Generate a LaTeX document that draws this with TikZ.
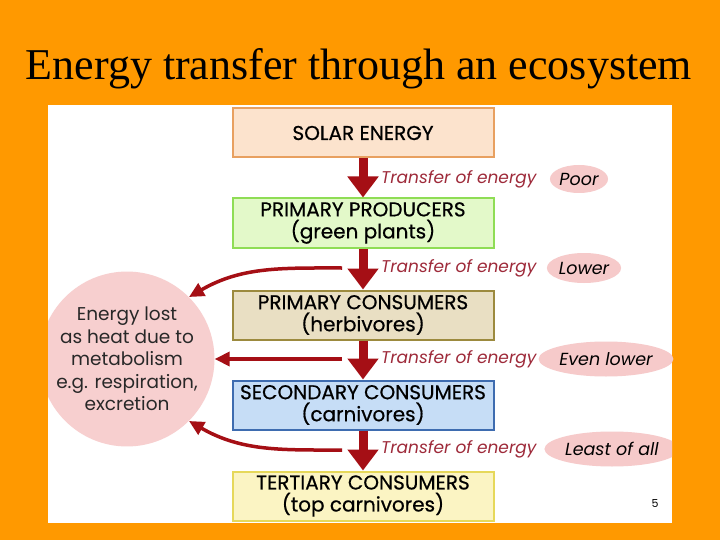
\documentclass[tikz,border=0pt]{standalone}
\usepackage{fontspec}
\setmainfont{Poppins}
\newfontfamily\titlefont{Liberation Serif}
\newfontfamily\boxfont{Poppins}[FakeBold=0.6]
\usetikzlibrary{arrows.meta,positioning,shapes}

\definecolor{slidebg}{HTML}{FF9900}
\definecolor{flowred}{HTML}{A50F15}
\definecolor{transtext}{HTML}{9E2A3A}
\definecolor{pinkfill}{HTML}{F6CACA}

\tikzset{
  level/.style={draw, line width=2pt, minimum width=261pt, minimum height=49pt,
    align=center, font=\boxfont\fontsize{20}{22}\selectfont, inner sep=0pt},
  flow/.style={draw=flowred, line width=9pt, -{Triangle[width=30pt,length=21pt]}},
  loss/.style={draw=flowred, line width=3.5pt, -{Triangle[width=14pt,length=15pt]}},
  transfer/.style={anchor=west, text=transtext, font=\fontsize{17}{19}\selectfont\itshape, inner sep=0pt},
  rating/.style={ellipse, fill=pinkfill, inner sep=1pt, font=\fontsize{17.5}{19}\selectfont\itshape}
}

\begin{document}
\begin{tikzpicture}[x=1pt, y=-1pt]
\fill[slidebg] (0,0) rectangle (720,540);
\useasboundingbox (0,0) rectangle (720,540);
\fill[white] (48,105) rectangle (672,523);

\node[font=\titlefont\fontsize{44}{48}\selectfont] (title) at (359,69) {Energy transfer through an ecosystem};

% trophic levels
\node[level, fill={rgb,255:red,252;green,227;blue,205}, draw={rgb,255:red,232;green,160;blue,96}] (solar) at (363,133) {SOLAR ENERGY};
\node[level, fill={rgb,255:red,227;green,249;blue,201}, draw={rgb,255:red,143;green,221;blue,85}] (prod) at (363,223) {PRIMARY PRODUCERS\\(green plants)};
\node[level, fill={rgb,255:red,233;green,223;blue,195}, draw={rgb,255:red,156;green,138;blue,62}] (pcons) at (363,315) {PRIMARY CONSUMERS\\(herbivores)};
\node[level, fill={rgb,255:red,198;green,221;blue,246}, draw={rgb,255:red,62;green,108;blue,176}] (scons) at (363,405) {SECONDARY CONSUMERS\\(carnivores)};
\node[level, fill={rgb,255:red,251;green,244;blue,195}, draw={rgb,255:red,230;green,216;blue,90}] (tcons) at (363,496) {TERTIARY CONSUMERS\\(top carnivores)};

\draw[flow] (solar.south) -- (prod.north);
\draw[flow] (prod.south) -- (pcons.north);
\draw[flow] (pcons.south) -- (scons.north);
\draw[flow] (scons.south) -- (tcons.north);

% transfer labels
\node[transfer] (t1) at (381,179) {Transfer of energy};
\node[transfer] (t2) at (381,268) {Transfer of energy};
\node[transfer] (t3) at (381,359) {Transfer of energy};
\node[transfer] (t4) at (381,449) {Transfer of energy};
\node[rating, minimum width=58pt, minimum height=28pt] (poor) at (579,179) {Poor};
\node[rating, minimum width=68pt, minimum height=30pt] (lower) at (584,268) {Lower};
\node[rating, minimum width=117pt, minimum height=35pt] (even) at (606,359) {Even lower};
\begin{scope}
\clip (48,105) rectangle (672,523);
\node[rating, minimum width=120pt, minimum height=35pt] (least) at (612,449) {Least of all};
% heat loss
\node[circle, fill={rgb,255:red,247;green,207;blue,207}, minimum size=158pt, inner sep=0pt, align=center,
  text={rgb,255:red,40;green,40;blue,40}, font=\fontsize{18.5}{22.5}\selectfont] (heat) at (127,359)
  {Energy lost\\as heat due to\\metabolism\\e.g. respiration,\\excretion};
\end{scope}
\coordinate (h1) at (342,268);
\coordinate (h2) at (342,359);
\coordinate (h3) at (342,450);
\draw[loss] (h1) to[out=180, in=30] (heat.45);
\draw[loss] (h2) -- (heat.east);
\draw[loss] (h3) to[out=180, in=-30] (heat.-45);

\node[font=\fontsize{11}{12}\selectfont] (page) at (655,504) {5};
\end{tikzpicture}
\end{document}
